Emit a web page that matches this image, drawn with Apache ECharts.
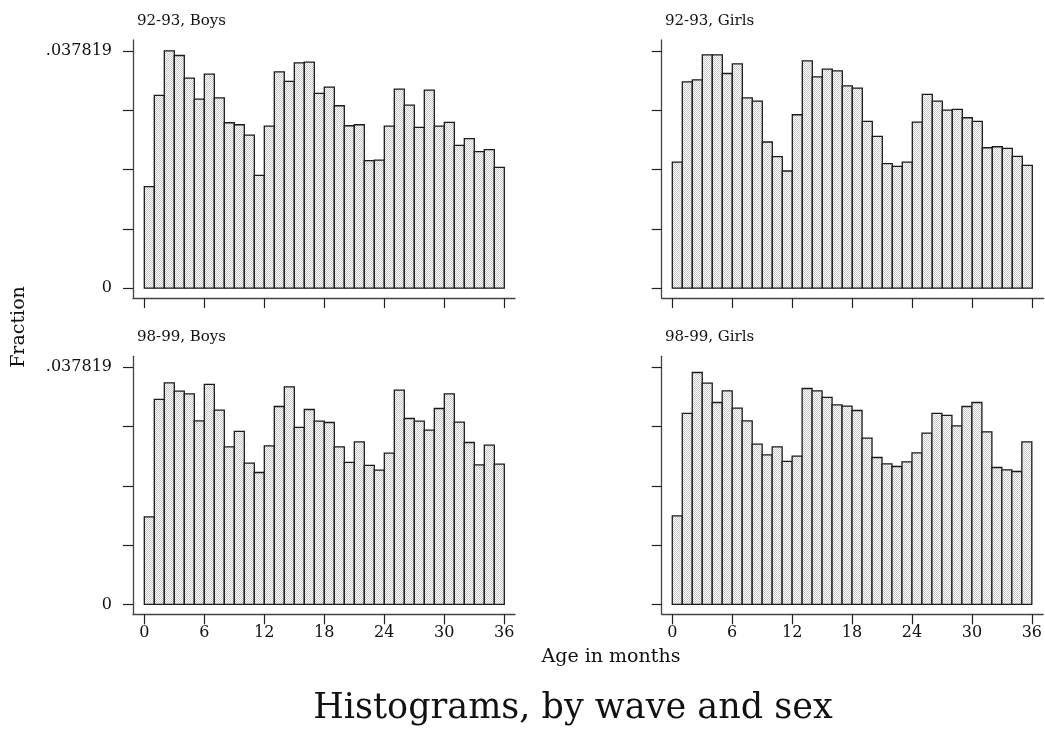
<!DOCTYPE html>
<html>
<head>
<meta charset="utf-8">
<script src="https://cdn.jsdelivr.net/npm/echarts@6/dist/echarts.min.js"></script>
<style>
  html, body { margin: 0; padding: 0; background: #fff; }
  #chart { width: 1045px; height: 732px; }
</style>
</head>
<body>
<div id="chart"></div>
<script>
// Age bins (left edge, in months); each bin is one month wide
const months = [0, 1, 2, 3, 4, 5, 6, 7, 8, 9, 10, 11, 12, 13, 14, 15, 16, 17,
                18, 19, 20, 21, 22, 23, 24, 25, 26, 27, 28, 29, 30, 31, 32, 33, 34, 35];
const binWidth = 1;

// Fraction of children in each age bin
const boys9293 = [0.01618, 0.03071, 0.037819, 0.03708, 0.03347, 0.03013, 0.03411, 0.03034,
  0.02636, 0.02604, 0.02440, 0.01798, 0.02583, 0.03448, 0.03294, 0.03591, 0.03602, 0.03103,
  0.03204, 0.02907, 0.02588, 0.02604, 0.02032, 0.02042, 0.02583, 0.03172, 0.02917, 0.02562,
  0.03156, 0.02583, 0.02642, 0.02276, 0.02382, 0.02175, 0.02207, 0.01925];
const girls9293 = [0.02010, 0.03289, 0.03320, 0.03718, 0.03718, 0.03421, 0.03575, 0.03034,
  0.02981, 0.02329, 0.02095, 0.01867, 0.02764, 0.03623, 0.03368, 0.03490, 0.03464, 0.03225,
  0.03188, 0.02657, 0.02419, 0.01984, 0.01941, 0.02010, 0.02647, 0.03087, 0.02981, 0.02838,
  0.02848, 0.02716, 0.02657, 0.02238, 0.02254, 0.02228, 0.02101, 0.01957];
const boys9899 = [0.01397, 0.03267, 0.03532, 0.03399, 0.03357, 0.02927, 0.03506, 0.03097,
  0.02512, 0.02757, 0.02252, 0.02103, 0.02528, 0.03155, 0.03469, 0.02821, 0.03107, 0.02921,
  0.02900, 0.02512, 0.02263, 0.02592, 0.02215, 0.02141, 0.02412, 0.03415, 0.02964, 0.02921,
  0.02778, 0.03123, 0.03357, 0.02905, 0.02581, 0.02226, 0.02539, 0.02236];
const girls9899 = [0.01413, 0.03044, 0.03697, 0.03527, 0.03219, 0.03405, 0.03129, 0.02927,
  0.02555, 0.02385, 0.02512, 0.02279, 0.02364, 0.03442, 0.03405, 0.03299, 0.03182, 0.03160,
  0.03091, 0.02651, 0.02342, 0.02242, 0.02199, 0.02273, 0.02417, 0.02730, 0.03044, 0.03012,
  0.02847, 0.03155, 0.03219, 0.02751, 0.02183, 0.02146, 0.02119, 0.02592];

// Axis ticks and labels
const xTicks = [0, 6, 12, 18, 24, 30, 36];
const yTicks = [0, 0.00945475, 0.0189095, 0.02836425, 0.037819];
const yLabelValues = [0, 0.037819];
const yLabelTexts = ['0', '.037819'];

const panelTitles = ['92-93, Boys', '92-93, Girls', '98-99, Boys', '98-99, Girls'];
const panelSeries = [boys9293, girls9293, boys9899, girls9899];

// Layout of the 2x2 panels (pixels)
const layout = [
  { left: 133,   top: 40,    xMin: -1.13, labelX: false, labelY: true,  titleX: 137, titleY: 21 },
  { left: 661.7, top: 40,    xMin: -1.06, labelX: false, labelY: false, titleX: 665, titleY: 21 },
  { left: 133,   top: 356.3, xMin: -1.13, labelX: true,  labelY: true,  titleX: 137, titleY: 337 },
  { left: 661.7, top: 356.3, xMin: -1.06, labelX: true,  labelY: false, titleX: 665, titleY: 337 }
];
const gridWidth = 382, gridHeight = 258, xSpan = 38.2;
const yMin = -0.00157, yMax = 0.03955;

const serif = 'DejaVu Serif';
const axisColor = '#444';

// Fine stippled fill used for the bars
function stipple() {
  const c = document.createElement('canvas');
  c.width = 2; c.height = 2;
  const g = c.getContext('2d');
  g.fillStyle = '#ffffff'; g.fillRect(0, 0, 2, 2);
  g.fillStyle = '#c8c8c8'; g.fillRect(0, 0, 1, 1); g.fillRect(1, 1, 1, 1);
  return c;
}
const barFill = { image: stipple(), repeat: 'repeat' };

function nearestLabel(v) {
  let best = 0;
  for (let i = 1; i < yLabelValues.length; i++) {
    if (Math.abs(yLabelValues[i] - v) < Math.abs(yLabelValues[best] - v)) best = i;
  }
  return yLabelTexts[best];
}

const grids = [], xAxes = [], yAxes = [], series = [], graphics = [];
layout.forEach((p, k) => {
  grids.push({ left: p.left, top: p.top, width: gridWidth, height: gridHeight, containLabel: false });
  xAxes.push({
    type: 'value', gridIndex: k, min: p.xMin, max: p.xMin + xSpan,
    splitLine: { show: false },
    axisLine: { show: true, onZero: false, lineStyle: { color: axisColor, width: 1.3 } },
    axisTick: { show: true, length: 10, customValues: xTicks, lineStyle: { color: '#222', width: 1.2 } },
    axisLabel: {
      show: p.labelX, customValues: xTicks, margin: 11,
      fontFamily: serif, fontSize: 16, color: '#111'
    }
  });
  yAxes.push({
    type: 'value', gridIndex: k, min: yMin, max: yMax,
    splitLine: { show: false },
    axisLine: { show: true, onZero: false, lineStyle: { color: axisColor, width: 1.3 } },
    axisTick: { show: true, length: 10, customValues: yTicks, lineStyle: { color: '#222', width: 1.2 } },
    axisLabel: {
      show: p.labelY, customValues: yLabelValues, margin: 21,
      fontFamily: serif, fontSize: 16, color: '#111',
      formatter: nearestLabel
    }
  });
  const values = panelSeries[k];
  series.push({
    type: 'custom', xAxisIndex: k, yAxisIndex: k,
    data: months.map((m, i) => [m, m + binWidth, values[i]]),
    encode: { x: [0, 1], y: 2 },
    renderItem: function (params, api) {
      const p0 = api.coord([api.value(0), 0]);
      const p1 = api.coord([api.value(1), api.value(2)]);
      return {
        type: 'rect',
        shape: { x: p0[0], y: p1[1], width: p1[0] - p0[0], height: p0[1] - p1[1] },
        style: { fill: barFill, stroke: '#1a1a1a', lineWidth: 1.3 }
      };
    },
    silent: true
  });
  graphics.push({
    type: 'text', x: p.titleX, y: p.titleY,
    style: { text: panelTitles[k], fontFamily: serif, fontSize: 15, fill: '#111',
             align: 'left', verticalAlign: 'middle' }
  });
});

// Shared axis titles and overall title
graphics.push({
  type: 'text', x: 19, y: 327, rotation: Math.PI / 2,
  style: { text: 'Fraction', fontFamily: serif, fontSize: 19, fill: '#111',
           align: 'center', verticalAlign: 'middle' }
});
graphics.push({
  type: 'text', x: 611, y: 657,
  style: { text: 'Age in months', fontFamily: serif, fontSize: 19, fill: '#111',
           align: 'center', verticalAlign: 'middle' }
});
graphics.push({
  type: 'text', x: 573, y: 709,
  style: { text: 'Histograms, by wave and sex', fontFamily: serif, fontSize: 35, fill: '#111',
           align: 'center', verticalAlign: 'middle' }
});

const chart = echarts.init(document.getElementById('chart'), null, { renderer: 'canvas' });
chart.setOption({
  backgroundColor: '#ffffff',
  animation: false,
  grid: grids,
  xAxis: xAxes,
  yAxis: yAxes,
  series: series,
  graphic: graphics
});
</script>
</body>
</html>
